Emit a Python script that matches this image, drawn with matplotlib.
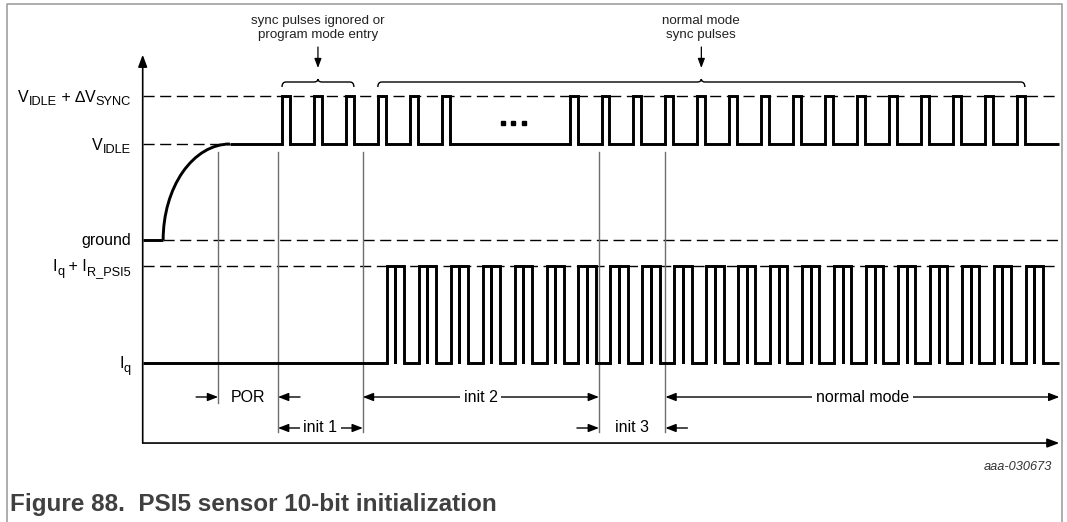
import matplotlib
matplotlib.use("Agg")
import matplotlib.pyplot as plt
from matplotlib.patches import Arc, PathPatch
from matplotlib.path import Path

plt.rcParams['font.family'] = ['Liberation Sans', 'DejaVu Sans']

# time in sync periods (t = 0 at first sync pulse), levels in arbitrary units
# each label is a list of (text, is_subscript) pieces
level_labels = [
    [('V', 0), ('IDLE', 1), (' + ∆V', 0), ('SYNC', 1)],
    [('V', 0), ('IDLE', 1)],
    [('ground', 0)],
    [('I', 0), ('q', 1), (' + I', 0), ('R_PSI5', 1)],
    [('I', 0), ('q', 1)],
]
level_values = [1.5, 1.0, 0.0, -0.27, -1.28]

sync_pulses = [0, 1, 2, 3, 4, 5, 9, 10, 11, 12, 13, 14, 15, 16, 17, 18, 19, 20, 21, 22, 23]
response_pulses = list(range(3, 24))
ignored_pulses = [0, 1, 2]
normal_pulses = list(range(3, 24))
sync_width = 0.25
bit_width = 0.27
response_delay = 0.28

t_start = -4.36     # y axis
t_end = 24.33       # end of traces
power_on = -3.72
settled = -1.63
dots_t = [6.92, 7.24, 7.57]

phase_bounds = [-2.0, -0.125, 2.53, 9.92, 12.0]
phase_names = ['POR', 'init 1', 'init 2', 'init 3', 'normal mode']

V_SYNC, V_IDLE, GND, I_HI, I_Q = level_values

# pixel scale of the drawing
PX = 31.95   # px per sync period
PY = 96.0    # px per level unit
W, H = 1067, 522

fig = plt.figure(figsize=(W / 100, H / 100), dpi=100)
ax = fig.add_axes([0, 0, 1, 1])
ax.set_xlim(-282 / PX, (W - 282) / PX)
ax.set_ylim(-(H - 240) / PY, 240 / PY)
ax.axis('off')
renderer = fig.canvas.get_renderer()

def px(v):
    return v / PX

def py(v):
    return v / PY

wave = dict(color='black', lw=2.1, solid_joinstyle='miter', solid_capstyle='butt')
dash = dict(color='black', lw=1.0, linestyle=(0, (8, 4)))

# axes
y_bottom = -2.115
ax.annotate('', xy=(t_start, 1.93), xytext=(t_start, y_bottom),
            arrowprops=dict(arrowstyle='-|>,head_length=0.8,head_width=0.3', lw=1.2,
                            color='black', shrinkA=0, shrinkB=0, mutation_scale=9))
ax.annotate('', xy=(t_end, y_bottom), xytext=(t_start, y_bottom),
            arrowprops=dict(arrowstyle='-|>,head_length=0.8,head_width=0.3', lw=1.2,
                            color='black', shrinkA=0, shrinkB=0, mutation_scale=9))

# reference levels
ax.plot([t_start, t_end], [V_SYNC, V_SYNC], **dash)
ax.plot([t_start, settled], [V_IDLE, V_IDLE], **dash)
ax.plot([power_on, t_end], [GND, GND], **dash)
ax.plot([t_start, t_end], [I_HI, I_HI], **dash)

def rich_label(x_right, y, pieces, fs=11.5, fs_sub=9.2):
    widths = []
    for s, sub in pieces:
        t = ax.text(0, 0, s, fontsize=fs_sub if sub else fs)
        widths.append(t.get_window_extent(renderer).width)
        t.remove()
    x = x_right - px(sum(widths))
    for (s, sub), w in zip(pieces, widths):
        ax.text(x, y - (py(3.5) if sub else 0), s, ha='left', va='baseline',
                fontsize=fs_sub if sub else fs)
        x += px(w)

for lab, val in zip(level_labels, level_values):
    rich_label(px(-151), val - py(5.5), lab)

# phase boundaries
for i, b in enumerate(phase_bounds):
    bottom = -1.70 if i == 0 else -2.0
    ax.plot([b, b], [0.917, bottom], color='#6e6e6e', lw=1.0)

# voltage trace
ax.plot([t_start, power_on], [GND, GND], **wave)
ax.add_patch(Arc((settled, GND), 2 * (settled - power_on), 2 * (V_IDLE - GND),
                 theta1=90, theta2=180, color='black', lw=2.1))
vx, vy = [settled], [V_IDLE]
for k in sync_pulses:
    vx += [k, k, k + sync_width, k + sync_width]
    vy += [V_IDLE, V_SYNC, V_SYNC, V_IDLE]
vx.append(t_end)
vy.append(V_IDLE)
ax.plot(vx, vy, **wave)
ax.plot(dots_t, [1.22] * len(dots_t), 's', color='black', ms=3.2)

# current trace
cx, cy = [t_start], [I_Q]
for k in response_pulses:
    s = k + response_delay
    cx += [s, s, s + bit_width, s + bit_width, s + bit_width, s + 2 * bit_width, s + 2 * bit_width]
    cy += [I_Q, I_HI, I_HI, I_Q, I_HI, I_HI, I_Q]
cx.append(t_end)
cy.append(I_Q)
ax.plot(cx, cy, **wave)

# braces over pulse groups
def brace(x0, x1, text):
    y_line, y_end, y_cusp = py(240 - 82), py(240 - 87), py(240 - 79)
    r = px(4)
    xc = (x0 + x1) / 2
    verts = [(x0, y_end), (x0, y_line), (x0 + r, y_line), (xc - r, y_line),
             (xc, y_line), (xc, y_cusp), (xc, y_line), (xc + r, y_line),
             (x1 - r, y_line), (x1, y_line), (x1, y_end)]
    codes = [Path.MOVETO, Path.CURVE3, Path.CURVE3, Path.LINETO,
             Path.CURVE3, Path.CURVE3, Path.CURVE3, Path.CURVE3,
             Path.LINETO, Path.CURVE3, Path.CURVE3]
    ax.add_patch(PathPatch(Path(verts, codes), fc='none', ec='black', lw=1.0))
    ax.annotate('', xy=(xc, py(240 - 68)), xytext=(xc, py(240 - 47)),
                arrowprops=dict(arrowstyle='-|>,head_length=0.8,head_width=0.3', lw=0.9,
                                color='black', shrinkA=0, shrinkB=0, mutation_scale=7))
    ax.text(xc, py(240 - 28), text, ha='center', va='center', fontsize=9.6,
            linespacing=1.25, color='#222222')

brace(ignored_pulses[0], ignored_pulses[-1] + sync_width, 'sync pulses ignored or\nprogram mode entry')
brace(normal_pulses[0], normal_pulses[-1] + sync_width, 'normal mode\nsync pulses')

# phase annotations
row1, row2 = py(240 - 397), py(240 - 428)
arr = dict(lw=1.0, color='black', shrinkA=0, shrinkB=0, mutation_scale=7)
head = 'head_length=0.9,head_width=0.35'
ends = phase_bounds + [t_end]
rows = [row1, row2, row1, row2, row1]
inward = [True, False, False, True, False]
for i, name in enumerate(phase_names):
    a, b, y = ends[i], ends[i + 1], rows[i]
    if inward[i]:
        stub = px(22)
        ax.annotate('', xy=(a, y), xytext=(a - stub, y),
                    arrowprops=dict(arrowstyle='-|>,' + head, **arr))
        ax.annotate('', xy=(b, y), xytext=(b + stub, y),
                    arrowprops=dict(arrowstyle='-|>,' + head, **arr))
        ax.text((a + b) / 2, y, name, ha='center', va='center', fontsize=11.5)
    else:
        ax.annotate('', xy=(b, y), xytext=(a, y),
                    arrowprops=dict(arrowstyle='<|-|>,' + head, **arr))
        ax.text((a + b) / 2, y, name, ha='center', va='center', fontsize=11.5,
                bbox=dict(fc='white', ec='none', pad=2.5))

# frame, id and caption
ax.plot([7 / W, 7 / W, 1062 / W, 1062 / W], [0, 1 - 4 / H, 1 - 4 / H, 0],
        color='#a0a0a0', lw=1.2, transform=ax.transAxes, clip_on=False)
ax.text(1052 / W, 1 - 467 / H, 'aaa-030673', ha='right', va='center', fontsize=9.2,
        style='italic', color='#333333', transform=ax.transAxes)
ax.text(10 / W, 1 - 505 / H, 'Figure 88.  PSI5 sensor 10-bit initialization', ha='left',
        va='center', fontsize=17.5, fontweight='bold', color='#404040', transform=ax.transAxes)

fig.savefig('out.png', dpi=100)
